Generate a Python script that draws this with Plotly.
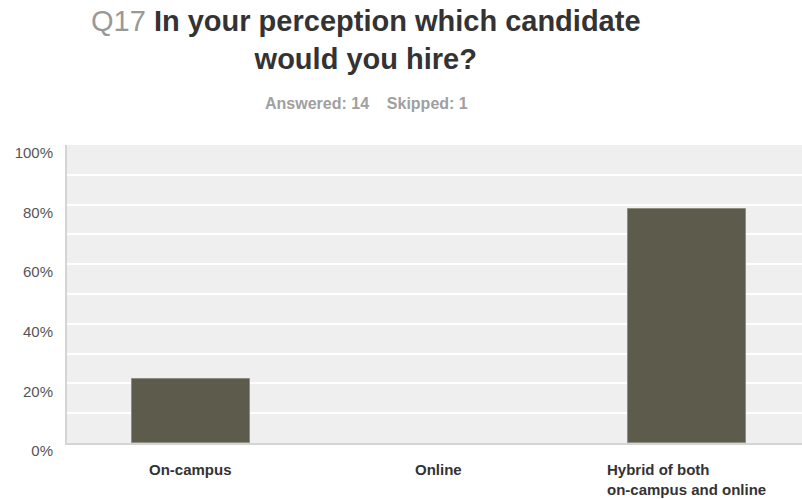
import plotly.graph_objects as go

# Survey question Q17 — share of respondents per answer choice
categories = ["On-campus", "Online", "Hybrid of both<br>on-campus and online"]
percent = [21.43, 0.0, 78.57]
y_ticks = [0, 20, 40, 60, 80, 100]
y_tick_labels = ["0%", "20%", "40%", "60%", "80%", "100%"]
answered = 14
skipped = 1

FONT = "Liberation Sans, Arial, Helvetica, sans-serif"
x_pos = list(range(len(categories)))

# plot-area geometry (pixels) used to place the header text
PLOT_L, PLOT_R, PLOT_T, PLOT_B = 67, 802, 145, 443
def px_to_paper_y(py):
    return (PLOT_B - py) / (PLOT_B - PLOT_T)
def px_to_paper_x(px):
    return (px - PLOT_L) / (PLOT_R - PLOT_L)

fig = go.Figure(
    go.Bar(
        x=x_pos,
        y=percent,
        width=0.476,
        marker=dict(
            color="#5d5b4c",
            line=dict(color="#8f8d80", width=[1 if v > 0 else 0 for v in percent]),
        ),
        hoverinfo="skip",
    )
)

# Category labels below the axis, block-centred with left-aligned lines
for xi, label in zip(x_pos, categories):
    fig.add_annotation(
        x=xi, xref="x", y=px_to_paper_y(459), yref="paper",
        text="<b>" + label + "</b>", showarrow=False,
        xanchor="center", yanchor="top", align="left",
        font=dict(family=FONT, size=15, color="#333333"),
    )

header_x = px_to_paper_x(366)
fig.add_annotation(
    x=header_x, xref="paper", y=px_to_paper_y(40), yref="paper",
    text="<span style='color:#999999'>Q17</span> <b>In your perception which candidate<br>would you hire?</b>",
    showarrow=False, xanchor="center", yanchor="middle", align="center",
    font=dict(family=FONT, size=29, color="#333333"),
)
fig.add_annotation(
    x=header_x, xref="paper", y=px_to_paper_y(104), yref="paper",
    text=f"<b>Answered: {answered}&nbsp;&nbsp;&nbsp;&nbsp;Skipped: {skipped}</b>",
    showarrow=False, xanchor="center", yanchor="middle",
    font=dict(family=FONT, size=16, color="#a0a0a0"),
)

fig.update_layout(
    width=802, height=499,
    margin=dict(l=PLOT_L, r=802 - PLOT_R, t=PLOT_T, b=499 - PLOT_B),
    paper_bgcolor="white",
    plot_bgcolor="#efefef",
    showlegend=False,
    bargap=0,
    xaxis=dict(
        range=[-0.5, 2.464],
        showticklabels=False,
        showgrid=False,
        zeroline=False,
        showline=True, linecolor="#d4d4d4", linewidth=2,
        fixedrange=True,
    ),
    yaxis=dict(
        range=[0, 100],
        tickmode="array", tickvals=y_ticks, ticktext=y_tick_labels,
        ticks="", ticklabelstandoff=9, ticklabelshift=8,
        tickfont=dict(family=FONT, size=15, color="#555555"),
        showgrid=True, gridcolor="white", gridwidth=2,
        minor=dict(dtick=10, tick0=0, showgrid=True, gridcolor="white", gridwidth=2),
        zeroline=False,
        showline=True, linecolor="#d4d4d4", linewidth=2,
        fixedrange=True,
    ),
)

fig.write_html("out.html")
